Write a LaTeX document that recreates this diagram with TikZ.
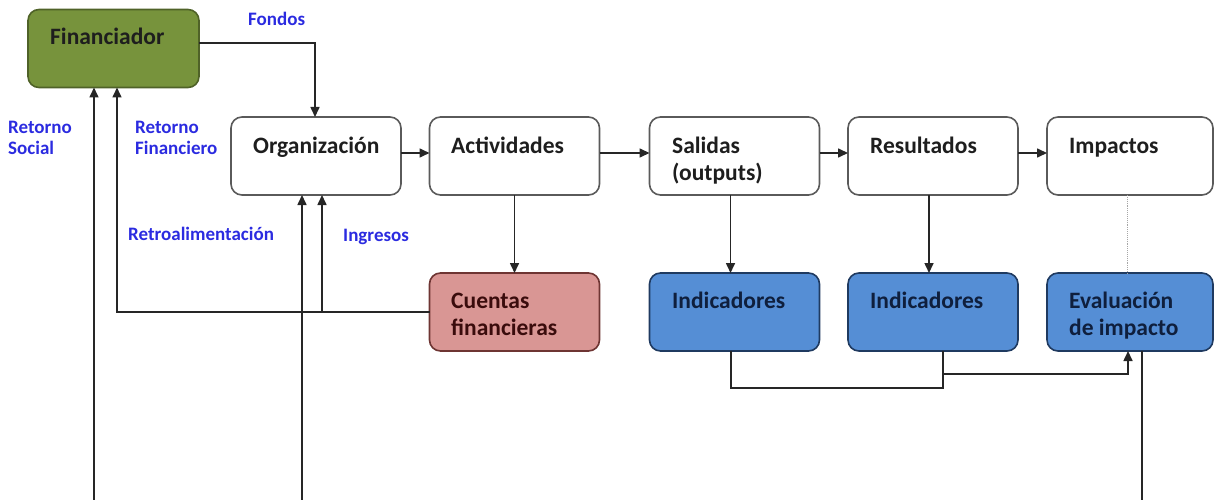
\documentclass[tikz,border=0pt]{standalone}
\usepackage{fontspec}
\setmainfont{Carlito}
\usetikzlibrary{arrows.meta}
\definecolor{greenfill}{HTML}{77933C}
\definecolor{greendraw}{HTML}{4F6228}
\definecolor{pinkfill}{HTML}{D99694}
\definecolor{pinkdraw}{HTML}{6E3533}
\definecolor{bluefill}{HTML}{558ED5}
\definecolor{bluedraw}{HTML}{1F3A60}
\definecolor{graydraw}{HTML}{5A5A5A}
\definecolor{linec}{HTML}{262626}
\definecolor{lblue}{HTML}{2B2BE0}
\definecolor{txtdark}{HTML}{1E1E1E}
\definecolor{txtpink}{HTML}{3A0C0C}
\definecolor{txtblue}{HTML}{0F1F3D}
\begin{document}
\begin{tikzpicture}[x=1pt,y=-1pt,
  box/.style={draw=graydraw, fill=white, line width=1.6pt, rounded corners=11pt,
    minimum width=170pt, minimum height=78pt, inner sep=0pt, outer sep=0pt},
  greenbox/.style={box, fill=greenfill, draw=greendraw, minimum width=171pt},
  pinkbox/.style={box, fill=pinkfill, draw=pinkdraw},
  bluebox/.style={box, fill=bluefill, draw=bluedraw},
  btxt/.style={font=\fontsize{23.5}{27}\selectfont\bfseries, align=left, anchor=base west, inner sep=0pt, text=txtdark},
  lbl/.style={font=\fontsize{19}{21}\selectfont\bfseries, text=lblue, align=left, anchor=base west, inner sep=0pt},
  con/.style={draw=linec, line width=1.6pt},
  arr/.style={con, -{Triangle[length=10pt,width=9pt]}},
  dots/.style={draw=gray!70, line width=0.9pt, densely dotted}
]
\useasboundingbox (0,0) rectangle (1214,500);

% boxes
\node[greenbox] (fin) at (113.5,48.5) {};
\node[box] (org) at (316,156) {};
\node[box] (act) at (514.5,156) {};
\node[box] (sal) at (734.5,156) {};
\node[box] (res) at (933,156) {};
\node[box, minimum width=166pt] (imp) at (1130,156) {};
\node[pinkbox] (cue) at (514.5,312) {};
\node[bluebox] (ind1) at (734.5,312) {};
\node[bluebox] (ind2) at (933,312) {};
\node[bluebox, minimum width=166pt] (eva) at (1130,312) {};

% box texts (base = baseline of last line)
\node[btxt] (fint) at (50,45) {Financiador};
\node[btxt] (orgt) at (253,153) {Organización};
\node[btxt] (actt) at (451,153) {Actividades};
\node[btxt] (salt) at (672,180) {Salidas\\(outputs)};
\node[btxt] (rest) at (870,153) {Resultados};
\node[btxt] (impt) at (1069,153) {Impactos};
\node[btxt, text=txtpink] (cuet) at (451,335) {Cuentas\\financieras};
\node[btxt, text=txtblue] (ind1t) at (672,308) {Indicadores};
\node[btxt, text=txtblue] (ind2t) at (870,308) {Indicadores};
\node[btxt, text=txtblue] (evat) at (1069,335) {Evaluación\\de impacto};

% labels
\node[lbl] (lfon) at (248,26) {Fondos};
\node[lbl] (lrs) at (8,154) {Retorno\\Social};
\node[lbl] (lrf) at (135,154) {Retorno\\Financiero};
\node[lbl] (lret) at (128,240) {Retroalimentación};
\node[lbl] (ling) at (343,241) {Ingresos};

% coordinates
\coordinate (rs) at (94,500);
\coordinate (rf) at (117,0);
\coordinate (rt) at (302,500);
\coordinate (ing) at (322,0);
\coordinate (jn) at (943,374);
\coordinate (evd) at (1142,500);

% connectors
\draw[arr] ([yshift=5.5pt]fin.east) -| ([xshift=-1pt]org.north);
\draw[arr] ([yshift=3pt]org.east) -- ([yshift=3pt]act.west);
\draw[arr] ([yshift=3pt]act.east) -- ([yshift=3pt]sal.west);
\draw[arr] ([yshift=3pt]sal.east) -- ([yshift=3pt]res.west);
\draw[arr] ([yshift=3pt]res.east) -- ([yshift=3pt]imp.west);
\draw[arr] (rs) -- (rs |- fin.south);
\draw[arr] (cue.west) -| (rf |- fin.south);
\draw[arr] (ing |- cue.west) -- (ing |- org.south);
\draw[arr] (rt) -- (rt |- org.south);
\draw[arr] (act.south) -- (cue.north);
\draw[arr] ([xshift=-4pt]sal.south) -- ([xshift=-4pt]ind1.north);
\draw[arr] ([xshift=-4pt]res.south) -- ([xshift=-4pt]ind2.north);
\draw[dots] ([xshift=-3pt]imp.south) -- ([xshift=-3pt]eva.north);
\draw[con] ([xshift=-3.5pt]ind1.south) -- ++(0,37) -| ([xshift=10pt]ind2.south);
\draw[arr] (jn) -| ([xshift=-2pt]eva.south);
\draw[con] ([xshift=12pt]eva.south) -- (evd);
\end{tikzpicture}
\end{document}
